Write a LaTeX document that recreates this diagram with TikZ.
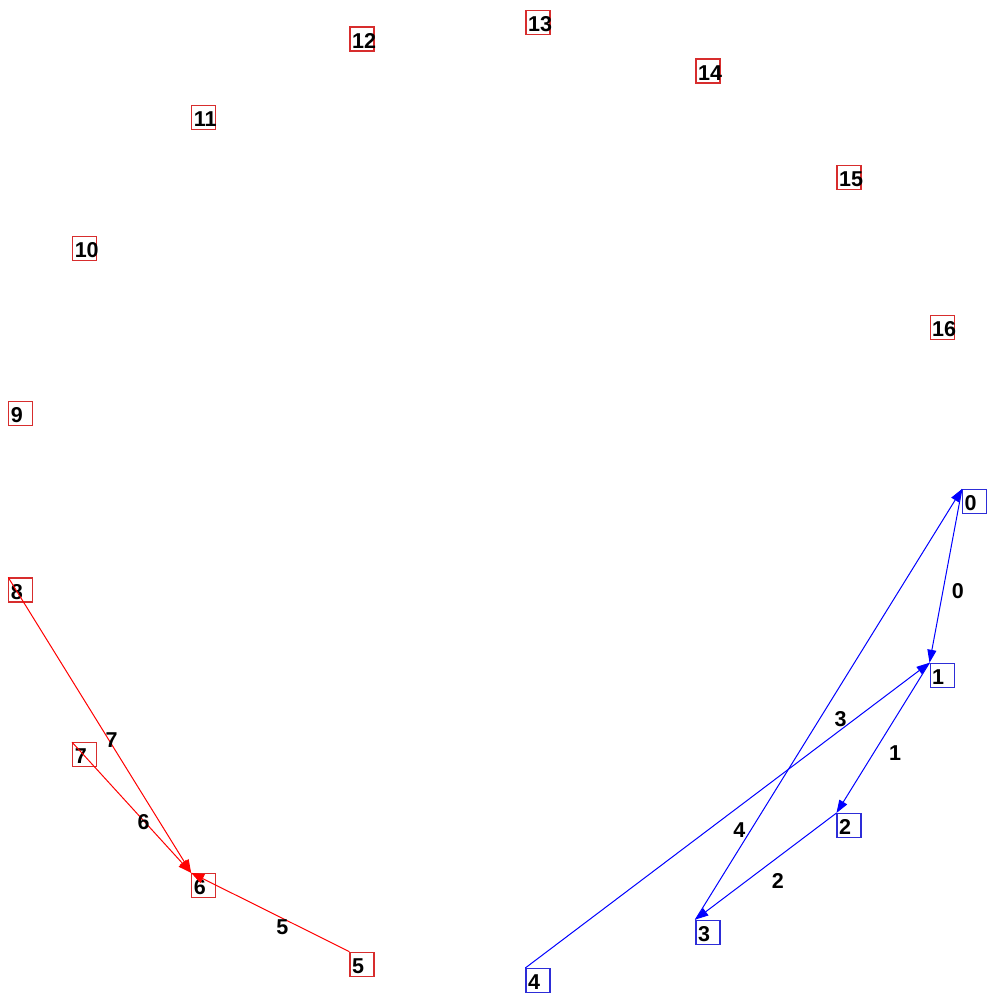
\documentclass[tikz,border=0pt]{standalone}
\usepackage{fontspec}
\setmainfont{Liberation Sans}
\usetikzlibrary{arrows.meta}
\definecolor{boxred}{RGB}{215,45,45}
\definecolor{boxblue}{RGB}{45,45,215}
\begin{document}
\begin{tikzpicture}[x=1pt,y=-1pt,
  vbox/.style={draw, line width=1.2pt, rectangle, minimum width=24pt, minimum height=24pt, inner sep=0pt, anchor=north west},
  bluebox/.style={vbox, draw=boxblue},
  redbox/.style={vbox, draw=boxred},
  num/.style={inner sep=0pt, anchor=base west, text=black, font=\fontsize{21.5}{24}\selectfont\bfseries},
  elabel/.style={pos=0.5, xshift=12pt, yshift=-15pt, anchor=center, inner sep=0pt, text=black, font=\fontsize{21.5}{24}\selectfont\bfseries},
  bedge/.style={blue, line width=1pt, -{Triangle[length=13pt,width=9pt]}},
  redge/.style={red, line width=1pt, -{Triangle[length=13pt,width=10pt]}}]
\useasboundingbox (0,0) rectangle (990,996);
\foreach \k in {0,...,4}{
  \node[bluebox] (n\k) at ({481+481*cos(\k*360/17)},{489+481*sin(\k*360/17)}) {};
  \node[num] (t\k) at ([xshift=2.5pt,yshift=3.5pt]n\k.south west) {\k};
}
\foreach \k in {5,...,16}{
  \node[redbox] (n\k) at ({481+481*cos(\k*360/17)},{489+481*sin(\k*360/17)}) {};
  \node[num] (t\k) at ([xshift=2.5pt,yshift=3.5pt]n\k.south west) {\k};
}
\draw[bedge] (n0.north west) -- node[elabel] {0} (n1.north west);
\draw[bedge] (n1.north west) -- node[elabel] {1} (n2.north west);
\draw[bedge] (n2.north west) -- node[elabel] {2} (n3.north west);
\draw[bedge] (n3.north west) -- node[elabel] {3} (n0.north west);
\draw[bedge] (n4.north west) -- node[elabel] {4} (n1.north west);
\draw[redge] (n5.north west) -- node[elabel] {5} (n6.north west);
\draw[redge] (n7.north west) -- node[elabel] {6} (n6.north west);
\draw[redge] (n8.north west) -- node[elabel] {7} (n6.north west);
\end{tikzpicture}
\end{document}
